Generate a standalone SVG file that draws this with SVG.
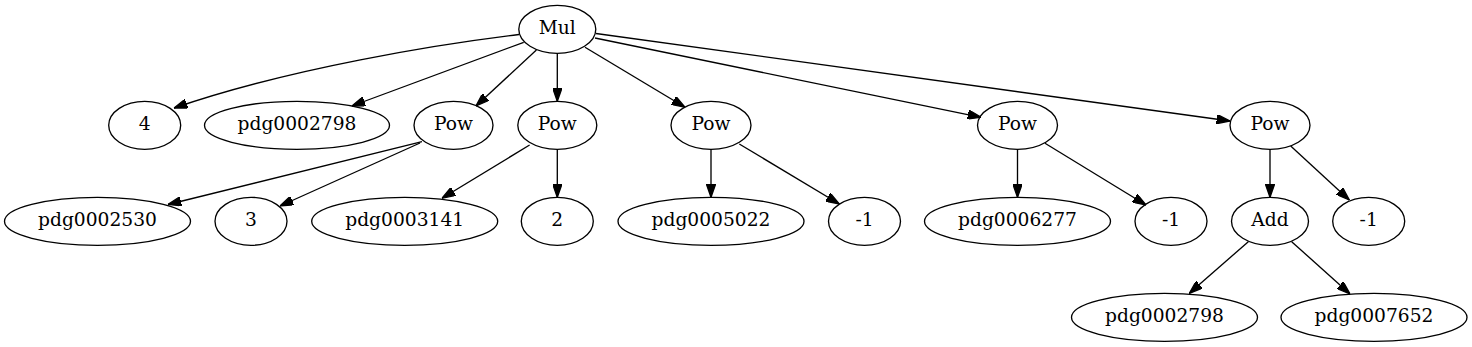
<svg xmlns="http://www.w3.org/2000/svg" width="1472" height="347" viewBox="0 0 1472 347">
<style>
.n ellipse{fill:none;stroke:#000;stroke-width:1.33}
.n text{font-family:"DejaVu Serif","Liberation Serif",serif;font-size:18.67px;text-anchor:middle;fill:#000}
#edges path{fill:none;stroke:#000;stroke-width:1.33;marker-end:url(#ah)}
</style>
<defs>
<marker id="ah" viewBox="0 0 10 7" markerWidth="13.33" markerHeight="9.33" markerUnits="userSpaceOnUse" refX="10" refY="3.5" orient="auto">
<path d="M0,0 L10,3.5 L0,7 z" fill="#000" stroke="#000" stroke-width="1"/>
</marker>
</defs>
<rect width="1472" height="347" fill="#fff"/>
<g id="edges">
<path d="M519,34.5 C440,44 290,68 174,108"/>
<path d="M523.7,42.3 L351.8,106"/>
<path d="M536.4,50 L476,106"/>
<path d="M557.3,53.3 L557.3,101.3"/>
<path d="M585,47.3 L685,107.3"/>
<path d="M595,38 L981,117.3"/>
<path d="M596,33.5 L1230,121"/>
<path d="M422,141.7 L168,204.5"/>
<path d="M420,143 L280,206"/>
<path d="M529.6,145 L442,198.3"/>
<path d="M557.3,149.3 L557.3,197.3"/>
<path d="M711,149.3 L711,197.3"/>
<path d="M739.3,144 L839.3,204"/>
<path d="M1017.5,149.3 L1017.5,197.3"/>
<path d="M1045,143.3 L1146,205"/>
<path d="M1270,149.3 L1270,197.3"/>
<path d="M1290.7,146 L1349.3,200"/>
<path d="M1248.3,241.7 L1189.3,293.3"/>
<path d="M1291.7,241.7 L1350,294"/>
</g>
<g id="mul" class="n"><ellipse cx="557.3" cy="29.3" rx="38.5" ry="24"/><text x="557.3" y="34.3">Mul</text></g>
<g id="c4" class="n"><ellipse cx="144.7" cy="125.3" rx="36" ry="24"/><text x="144.7" y="130.3">4</text></g>
<g id="pdg0002798a" class="n"><ellipse cx="297" cy="125.3" rx="92.5" ry="24"/><text x="297" y="130.3">pdg0002798</text></g>
<g id="pow1" class="n"><ellipse cx="453.5" cy="125.3" rx="39.5" ry="24"/><text x="453.5" y="130.3">Pow</text></g>
<g id="pow2" class="n"><ellipse cx="557.3" cy="125.3" rx="39.5" ry="24"/><text x="557.3" y="130.3">Pow</text></g>
<g id="pow3" class="n"><ellipse cx="711" cy="125.3" rx="40" ry="24"/><text x="711" y="130.3">Pow</text></g>
<g id="pow4" class="n"><ellipse cx="1017.5" cy="125.3" rx="40" ry="24"/><text x="1017.5" y="130.3">Pow</text></g>
<g id="pow5" class="n"><ellipse cx="1270" cy="125.3" rx="40" ry="24"/><text x="1270" y="130.3">Pow</text></g>
<g id="pdg0002530" class="n"><ellipse cx="97.5" cy="221.3" rx="93" ry="24"/><text x="97.5" y="226.3">pdg0002530</text></g>
<g id="c3" class="n"><ellipse cx="251" cy="221.3" rx="36" ry="24"/><text x="251" y="226.3">3</text></g>
<g id="pdg0003141" class="n"><ellipse cx="404.7" cy="221.3" rx="93" ry="24"/><text x="404.7" y="226.3">pdg0003141</text></g>
<g id="c2" class="n"><ellipse cx="557.3" cy="221.3" rx="36" ry="24"/><text x="557.3" y="226.3">2</text></g>
<g id="pdg0005022" class="n"><ellipse cx="711" cy="221.3" rx="93" ry="24"/><text x="711" y="226.3">pdg0005022</text></g>
<g id="m1a" class="n"><ellipse cx="864.5" cy="221.3" rx="36" ry="24"/><text x="864.5" y="226.3">-1</text></g>
<g id="pdg0006277" class="n"><ellipse cx="1017.5" cy="221.3" rx="93" ry="24"/><text x="1017.5" y="226.3">pdg0006277</text></g>
<g id="m1b" class="n"><ellipse cx="1171" cy="221.3" rx="36" ry="24"/><text x="1171" y="226.3">-1</text></g>
<g id="add" class="n"><ellipse cx="1270" cy="221.3" rx="38.5" ry="24"/><text x="1270" y="226.3">Add</text></g>
<g id="m1c" class="n"><ellipse cx="1368.7" cy="221.3" rx="36" ry="24"/><text x="1368.7" y="226.3">-1</text></g>
<g id="pdg0002798b" class="n"><ellipse cx="1164.5" cy="317.3" rx="93" ry="24"/><text x="1164.5" y="322.3">pdg0002798</text></g>
<g id="pdg0007652" class="n"><ellipse cx="1374" cy="317.3" rx="93" ry="24"/><text x="1374" y="322.3">pdg0007652</text></g>
</svg>
